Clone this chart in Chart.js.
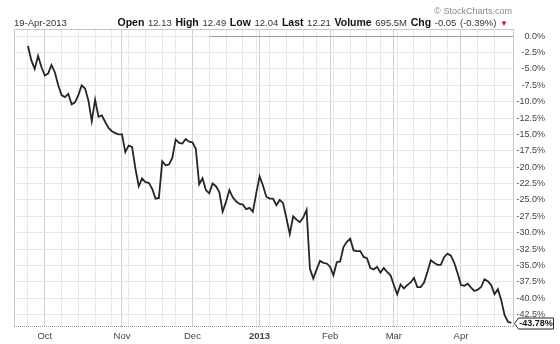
<!DOCTYPE html>
<html>
<head>
<meta charset="utf-8">
<script src="https://cdn.jsdelivr.net/npm/chart.js@4"></script>
<style>
  html, body { margin: 0; padding: 0; background: #fff; }
  #wrap { position: relative; width: 560px; height: 344px; font-family: "Liberation Sans", Arial, sans-serif; }
  #chart { position: absolute; left: 0; top: 0; }
  .hdr { position: absolute; white-space: nowrap; color: #333; }
  #date { left: 14px; top: 17px; font-size: 9.5px; }
  #quote { right: 52px; top: 16px; font-size: 9.5px; word-spacing: 1px; }
  #quote b { font-size: 10.5px; color: #111; }
  #quote .dn { color: #c0143c; font-size: 8px; }
  #brand { right: 48px; top: 6px; font-size: 9px; color: #888; }
</style>
</head>
<body>
<div id="wrap">
  <canvas id="chart" width="560" height="344"></canvas>
  <div class="hdr" id="brand">© StockCharts.com</div>
  <div class="hdr" id="date">19-Apr-2013</div>
  <div class="hdr" id="quote"><b>Open</b> 12.13 <b>High</b> 12.49 <b>Low</b> 12.04 <b>Last</b> 12.21 <b>Volume</b> 695.5M <b>Chg</b> -0.05 (-0.39%) <span class="dn">▼</span></div>
</div>
<script>
// % change since 24-Sep-2012, one value per trading day
const pctChange = [
  -1.5, -3.7, -5.0, -3.0, -4.7, -6.0, -5.7, -4.4, -5.5, -7.5,
  -9.0, -9.3, -8.8, -10.4, -10.1, -9.0, -7.5, -8.0, -9.8, -13.0,
  -9.7, -12.3, -12.1, -13.1, -14.0, -14.5, -14.8, -15.0, -15.0, -17.7,
  -16.7, -16.9, -20.2, -22.9, -21.7, -22.3, -22.4, -23.3, -24.8, -24.7,
  -19.1, -19.7, -19.6, -18.6, -15.8, -16.3, -16.4, -15.7, -16.1, -16.2,
  -17.2, -22.6, -21.7, -23.5, -24.0, -22.5, -22.9, -23.8, -26.8, -25.3,
  -23.5, -24.6, -25.2, -25.6, -25.7, -26.4, -26.2, -26.8, -24.0, -21.4,
  -22.8, -24.5, -24.8, -24.8, -25.8, -25.0, -25.5, -27.8, -30.2, -27.5,
  -28.0, -28.4, -27.7, -26.5, -35.5, -37.0, -35.6, -34.3, -34.6, -34.7,
  -35.2, -36.5, -34.5, -34.4, -32.2, -31.4, -30.9, -32.7, -32.8, -32.8,
  -33.7, -33.9, -35.4, -35.6, -35.2, -36.1, -35.4, -36.0, -36.5, -38.0,
  -39.4, -37.9, -38.5, -38.0, -37.6, -36.9, -38.3, -38.3, -37.6, -36.0,
  -34.2, -34.6, -34.9, -34.9, -33.7, -33.2, -33.5, -34.6, -36.2, -38.0,
  -38.1, -37.8, -38.4, -38.9, -38.7, -38.3, -37.1, -37.4, -38.0, -39.4,
  -38.6, -40.3, -42.6, -43.6, -43.78
];

// month boundaries (trading day index) and their labels
const monthIdx = [5, 28, 49, 69, 90, 109, 129];
const monthLabels = ['Oct', 'Nov', 'Dec', '2013', 'Feb', 'Mar', 'Apr'];
// weekly grid (first trading day of each week)
const weekIdx = [0, 5, 10, 15, 20, 25, 30, 35, 40, 44, 54, 59, 64, 68, 72, 77, 82, 86, 91, 96, 101, 105, 110, 115, 120, 125, 134, 139];

const yTicks = [0, -2.5, -5, -7.5, -10, -12.5, -15, -17.5, -20, -22.5, -25, -27.5, -30, -32.5, -35, -37.5, -40, -42.5];
const lastLabel = '-43.78%';
const refLineFrom = 54; // darker zero line starts here

const FONT = '"Liberation Sans", Arial, sans-serif';

const frame = {
  id: 'frame',
  beforeDatasetsDraw(chart) {
    const { ctx, chartArea: a, scales } = chart;
    ctx.save();
    // zero reference line
    const y0 = Math.round(scales.y.getPixelForValue(0)) + 0.5;
    ctx.strokeStyle = '#a0a0a0';
    ctx.lineWidth = 1;
    ctx.beginPath();
    ctx.moveTo(scales.x.getPixelForValue(refLineFrom), y0);
    ctx.lineTo(a.right, y0);
    ctx.stroke();
    // border
    ctx.strokeStyle = '#c8c8c8';
    ctx.beginPath();
    ctx.moveTo(a.left + 0.5, a.bottom);
    ctx.lineTo(a.left + 0.5, a.top + 0.5);
    ctx.lineTo(a.right - 0.5, a.top + 0.5);
    ctx.lineTo(a.right - 0.5, a.bottom);
    ctx.stroke();
    ctx.setLineDash([1, 1]);
    ctx.strokeStyle = '#999';
    ctx.beginPath();
    ctx.moveTo(a.left, a.bottom - 0.5);
    ctx.lineTo(a.right, a.bottom - 0.5);
    ctx.stroke();
    ctx.restore();
  },
  afterDatasetsDraw(chart) {
    const { ctx, chartArea: a, scales } = chart;
    const y = Math.round(scales.y.getPixelForValue(pctChange[pctChange.length - 1])) + 0.5;
    const x0 = a.right + 0.5, h = 11, w = 39;
    ctx.save();
    ctx.beginPath();
    ctx.moveTo(x0, y);
    ctx.lineTo(x0 + 4, y - h / 2);
    ctx.lineTo(x0 + w, y - h / 2);
    ctx.lineTo(x0 + w, y + h / 2);
    ctx.lineTo(x0 + 4, y + h / 2);
    ctx.closePath();
    ctx.fillStyle = '#fff';
    ctx.fill();
    ctx.strokeStyle = '#222';
    ctx.lineWidth = 1;
    ctx.stroke();
    ctx.fillStyle = '#111';
    ctx.font = 'bold 9px ' + FONT;
    ctx.textAlign = 'center';
    ctx.textBaseline = 'middle';
    ctx.fillText(lastLabel, x0 + 4 + (w - 4) / 2, y + 0.5);
    ctx.restore();
  }
};

new Chart(document.getElementById('chart'), {
  type: 'line',
  data: {
    datasets: [{
      data: pctChange.map((v, i) => ({ x: i, y: v })),
      borderColor: '#262626',
      borderWidth: 1.8,
      pointRadius: 0,
      tension: 0,
      fill: false
    }]
  },
  options: {
    responsive: false,
    animation: false,
    layout: { padding: { top: 29, left: 14, right: 15, bottom: 0 } },
    plugins: { legend: { display: false }, tooltip: { enabled: false } },
    scales: {
      x: {
        type: 'linear',
        min: -4.17,
        max: 144.8,
        afterBuildTicks: s => {
          const all = Array.from(new Set(weekIdx.concat(monthIdx))).sort((a, b) => a - b);
          s.ticks = all.map(v => ({ value: v }));
        },
        afterFit: s => { s.height = 17; },
        border: { display: false },
        grid: {
          drawTicks: false,
          color: c => (c.tick && monthIdx.includes(c.tick.value)) ? '#cfcfcf' : '#e8e8e8'
        },
        ticks: {
          autoSkip: false,
          maxRotation: 0,
          padding: 4,
          color: '#444',
          font: c => ({ family: FONT, size: 9.5, weight: (c.tick && c.tick.value === 69) ? 'bold' : 'normal' }),
          callback: v => {
            const k = monthIdx.indexOf(v);
            return k >= 0 ? monthLabels[k] : '';
          }
        }
      },
      y: {
        position: 'right',
        min: -44.4,
        max: 1.1,
        afterBuildTicks: s => { s.ticks = yTicks.map(v => ({ value: v })); },
        afterFit: s => { s.width = 31; },
        border: { display: false },
        grid: { drawTicks: false, color: '#e6e6e6' },
        ticks: {
          crossAlign: 'far',
          padding: 0,
          color: '#444',
          font: { family: FONT, size: 9 },
          callback: v => v.toFixed(1) + '%'
        }
      }
    }
  },
  plugins: [frame]
});
</script>
</body>
</html>
